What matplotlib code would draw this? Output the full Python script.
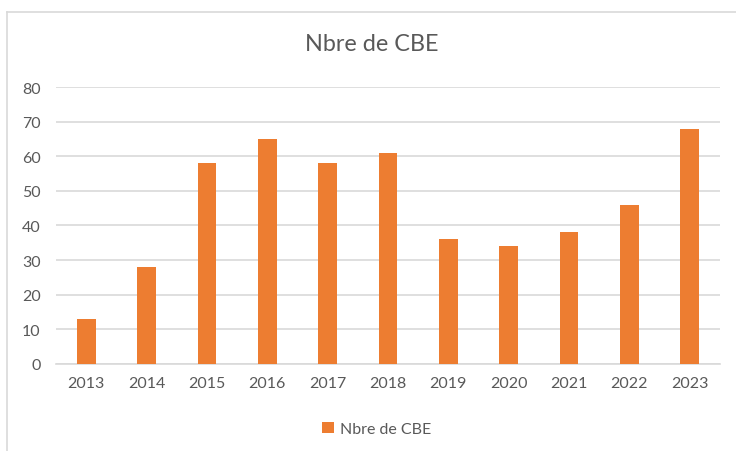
import matplotlib
matplotlib.use('Agg')
import matplotlib.pyplot as plt
from matplotlib.lines import Line2D
import numpy as np

# ----------------------------------------------------------------------
#  DATA
# ----------------------------------------------------------------------
years  = ['2013', '2014', '2015', '2016', '2017', '2018',
          '2019', '2020', '2021', '2022', '2023']
n_cbe  = [13, 28, 58, 65, 58, 61, 36, 34, 38, 46, 68]
y_ticks = [0, 10, 20, 30, 40, 50, 60, 70, 80]

# ----------------------------------------------------------------------
#  STYLE
# ----------------------------------------------------------------------
bar_color  = '#ED7D31'
text_color = '#595959'
grid_color = '#D9D9D9'
plt.rcParams['font.family'] = ['Lato', 'DejaVu Sans']

fig = plt.figure(figsize=(7.36, 4.52), dpi=100)
fig.patch.set_facecolor('white')
ax = fig.add_axes([0.0761, 0.1925, 0.9019, 0.6128])

x = np.arange(len(years))
ax.bar(x, n_cbe, width=0.31, color=bar_color, label='Nbre de CBE', zorder=3)

ax.set_xlim(-0.5, len(years) - 0.5)
ax.set_ylim(0, 80)
ax.set_yticks(y_ticks)
ax.set_xticks(x)
ax.set_xticklabels(years)
ax.yaxis.grid(True, color=grid_color, linewidth=1.2, zorder=0)
ax.tick_params(axis='both', length=0, labelsize=11.5, colors=text_color)
ax.tick_params(axis='x', pad=9)
ax.tick_params(axis='y', pad=11)
for side in ['top', 'right', 'left']:
    ax.spines[side].set_visible(False)
ax.spines['bottom'].set_color(grid_color)
ax.spines['bottom'].set_linewidth(1.2)

fig.suptitle('Nbre de CBE', x=0.505, y=0.925, fontsize=16.8, color=text_color)

leg = fig.legend(loc='center', bbox_to_anchor=(0.512, 0.048), frameon=False,
                 fontsize=11.5, handlelength=0.7, handleheight=0.7,
                 handletextpad=0.4, labelcolor=text_color)

# chart frame (top and left edges visible)
fig.add_artist(Line2D([0.0095, 1.0], [0.971, 0.971], color=grid_color,
                      linewidth=1.2, transform=fig.transFigure))
fig.add_artist(Line2D([0.0095, 0.0095], [0.0, 0.971], color=grid_color,
                      linewidth=1.2, transform=fig.transFigure))

fig.savefig('out.png', dpi=100)
